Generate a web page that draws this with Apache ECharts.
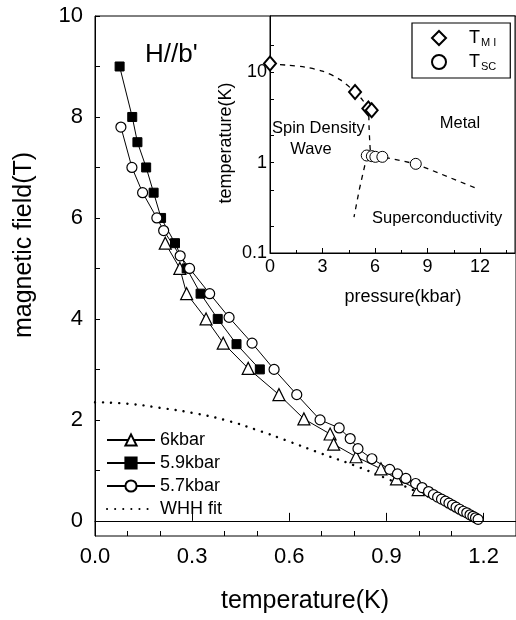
<!DOCTYPE html>
<html>
<head>
<meta charset="utf-8">
<script src="https://cdn.jsdelivr.net/npm/echarts@6/dist/echarts.min.js"></script>
<style>
  html, body { margin: 0; padding: 0; background: #fff; }
  #chart { width: 516px; height: 620px; }
</style>
</head>
<body>
<div id="chart"></div>
<script>
// main panel: upper critical field vs temperature
const tri6T = [0.217, 0.262, 0.283, 0.343, 0.396, 0.473, 0.568, 0.645, 0.726, 0.737, 0.806, 0.883, 0.931, 0.998]
const tri6H = [5.5, 5.0, 4.5, 4.0, 3.52, 3.02, 2.5, 2.02, 1.72, 1.52, 1.27, 1.03, 0.83, 0.62]

const sq59T = [0.076, 0.115, 0.131, 0.158, 0.181, 0.204, 0.247, 0.283, 0.326, 0.379, 0.437, 0.509]
const sq59H = [9.0, 8.0, 7.5, 7.0, 6.5, 6.0, 5.5, 5.0, 4.5, 4.0, 3.5, 3.0]

const ci57T = [0.080, 0.114, 0.147, 0.191, 0.212, 0.263, 0.292, 0.354, 0.414, 0.485, 0.553, 0.623,
  0.695, 0.754, 0.788, 0.812, 0.855, 0.910, 0.934, 0.960, 0.990, 1.010, 1.030, 1.045, 1.058,
  1.070, 1.082, 1.093, 1.104, 1.115, 1.126, 1.137, 1.148, 1.158, 1.167, 1.175, 1.183]
const ci57H = [7.8, 7.0, 6.5, 6.0, 5.75, 5.25, 5.0, 4.5, 4.03, 3.52, 3.0, 2.5,
  2.0, 1.84, 1.63, 1.43, 1.23, 1.02, 0.93, 0.84, 0.74, 0.66, 0.58, 0.52, 0.47,
  0.43, 0.39, 0.35, 0.31, 0.27, 0.23, 0.19, 0.16, 0.12, 0.09, 0.06, 0.03]

const whhT = [0, 0.1, 0.2, 0.3, 0.4, 0.5, 0.6, 0.7, 0.8, 0.9, 1.0, 1.1, 1.18]
const whhH = [2.35, 2.32, 2.24, 2.14, 2.0, 1.8, 1.57, 1.33, 1.1, 0.84, 0.56, 0.27, 0.0]

const tempTicks = [0, 0.3, 0.6, 0.9, 1.2]
const tempMinor = [0.1, 0.2, 0.4, 0.5, 0.7, 0.8, 1.0, 1.1, 1.3]
const fieldTicks = [0, 1, 2, 3, 4, 5, 6, 7, 8, 9, 10]
const fieldLabels = [0, 2, 4, 6, 8, 10]

// inset: phase diagram
const tmiP = [0, 4.86, 5.62, 5.81]
const tmiT = [12.5, 6.05, 3.97, 3.8]
const tscP = [5.53, 5.82, 6.02, 6.42, 8.33]
const tscT = [1.2, 1.18, 1.16, 1.16, 0.97]

const sdwLineP = [0, 1, 2, 3, 4, 4.86, 5.3, 5.62, 5.66, 5.7, 5.75]
const sdwLineT = [12.3, 12.0, 11.4, 10.3, 8.3, 6.05, 4.9, 3.9, 2.5, 1.7, 1.2]
const scLeftP = [5.55, 5.35, 5.1, 4.8]
const scLeftT = [1.2, 0.82, 0.5, 0.25]
const scRightP = [6.0, 6.42, 8.33, 11.9]
const scRightT = [1.17, 1.16, 0.97, 0.51]

const presTicks = [0, 3, 6, 9, 12]
const presMinor = [1.5, 4.5, 7.5, 10.5, 13.5]
const inTempTicks = [0.1, 0.2, 0.5, 1, 2, 5, 10, 20]
const inTempLabels = [0.1, 1, 10]

const FONT = 'Liberation Sans, Arial, sans-serif'

function zip(xs, ys) {
  return xs.map((x, i) => [x, ys[i]])
}

const myChart = echarts.init(document.getElementById('chart'))

const hollow = { color: '#fff', borderColor: '#000', borderWidth: 1.2 }
const thin = { color: '#000', width: 1 }
const dashed = { color: '#000', width: 1.3, type: [5, 5] }

myChart.setOption({
  animation: false,
  grid: [
    { left: 95, top: 16, right: 0, bottom: 84, show: true, borderColor: '#000', borderWidth: 1 },
    { left: 270, top: 16, right: 1, bottom: 367, show: true, backgroundColor: '#fff', borderColor: '#000', borderWidth: 1 }
  ],
  xAxis: [
    {
      gridIndex: 0, type: 'value', min: 0, max: 1.3,
      axisLine: { lineStyle: { color: '#000', width: 1 } },
      axisTick: { inside: true, length: 8, customValues: tempTicks, lineStyle: { color: '#000' } },
      axisLabel: { customValues: tempTicks, color: '#000', fontSize: 22, fontFamily: FONT, margin: 10,
        formatter: v => v.toFixed(1) },
      splitLine: { show: false }
    },
    {
      // minor ticks only
      gridIndex: 0, type: 'value', min: 0, max: 1.3, position: 'bottom',
      axisLine: { show: false },
      axisTick: { inside: true, length: 5, customValues: tempMinor, lineStyle: { color: '#000' } },
      axisLabel: { show: false },
      splitLine: { show: false }
    },
    {
      gridIndex: 1, type: 'value', min: 0, max: 14,
      axisLine: { lineStyle: { color: '#000', width: 1 } },
      axisTick: { inside: true, length: 5, customValues: presTicks, lineStyle: { color: '#000' } },
      axisLabel: { customValues: presTicks, color: '#000', fontSize: 18, fontFamily: FONT, margin: 5 },
      splitLine: { show: false }
    },
    {
      gridIndex: 1, type: 'value', min: 0, max: 14, position: 'bottom',
      axisLine: { show: false },
      axisTick: { inside: true, length: 3, customValues: presMinor, lineStyle: { color: '#000' } },
      axisLabel: { show: false },
      splitLine: { show: false }
    }
  ],
  yAxis: [
    {
      gridIndex: 0, type: 'value', min: -0.3, max: 10,
      axisLine: { lineStyle: { color: '#000', width: 1 } },
      axisTick: { inside: true, length: 5, customValues: fieldTicks, lineStyle: { color: '#000' } },
      axisLabel: { customValues: fieldLabels, color: '#000', fontSize: 22, fontFamily: FONT, margin: 12 },
      splitLine: { show: false }
    },
    {
      gridIndex: 1, type: 'log', min: 0.1, max: 42, logBase: 10,
      axisLine: { lineStyle: { color: '#000', width: 1 } },
      axisTick: { inside: true, length: 4, customValues: inTempTicks, lineStyle: { color: '#000' } },
      axisLabel: { customValues: inTempLabels, color: '#000', fontSize: 18, fontFamily: FONT, margin: 3,
        formatter: v => String(v) },
      splitLine: { show: false }
    }
  ],
  legend: [
    {
      orient: 'vertical', left: 106, top: 431, padding: 0,
      itemWidth: 48, itemHeight: 14, itemGap: 5,
      data: ['6kbar', '5.9kbar', '5.7kbar', 'WHH fit'],
      textStyle: { color: '#000', fontSize: 18, lineHeight: 18, fontFamily: FONT }
    },
    {
      orient: 'vertical', left: 412, top: 23, padding: [6, 14, 6, 19],
      borderColor: '#000', borderWidth: 1.2, backgroundColor: '#fff',
      itemWidth: 14, itemHeight: 14, itemGap: 5,
      data: ['T_MI', 'T_SC'],
      formatter: name => name === 'T_MI' ? '{t|T}{s|M I}' : '{t|T}{s|SC}',
      textStyle: {
        color: '#000', fontFamily: FONT,
        rich: {
          t: { fontSize: 18, lineHeight: 20, padding: [0, 0, 0, 18], fontFamily: FONT, color: '#000' },
          s: { fontSize: 11, lineHeight: 20, verticalAlign: 'bottom', padding: [6, 0, 0, 1], fontFamily: FONT, color: '#000' }
        }
      }
    }
  ],
  graphic: [
    { type: 'text', z: 100, left: 145, top: 42, style: { text: "H//b'", font: '26px ' + FONT, fill: '#000' } },
    { type: 'text', z: 100, x: 24, y: 245, rotation: Math.PI / 2,
      style: { text: 'magnetic field(T)', font: '25px ' + FONT, fill: '#000', align: 'center', verticalAlign: 'middle' } },
    { type: 'text', z: 100, x: 305, y: 601,
      style: { text: 'temperature(K)', font: '25px ' + FONT, fill: '#000', align: 'center', verticalAlign: 'middle' } },
    { type: 'text', z: 100, x: 226, y: 143, rotation: Math.PI / 2,
      style: { text: 'temperature(K)', font: '18px ' + FONT, fill: '#000', align: 'center', verticalAlign: 'middle' } },
    { type: 'text', z: 100, x: 403, y: 297,
      style: { text: 'pressure(kbar)', font: '18px ' + FONT, fill: '#000', align: 'center', verticalAlign: 'middle' } },
    { type: 'text', z: 100, x: 272, y: 128,
      style: { text: 'Spin Density', font: '16.5px ' + FONT, fill: '#000', align: 'left', verticalAlign: 'middle' } },
    { type: 'text', z: 100, x: 311, y: 149,
      style: { text: 'Wave', font: '16.5px ' + FONT, fill: '#000', align: 'center', verticalAlign: 'middle' } },
    { type: 'text', z: 100, x: 460, y: 123,
      style: { text: 'Metal', font: '16.5px ' + FONT, fill: '#000', align: 'center', verticalAlign: 'middle' } },
    { type: 'text', z: 100, x: 372, y: 218,
      style: { text: 'Superconductivity', font: '16.5px ' + FONT, fill: '#000', align: 'left', verticalAlign: 'middle' } }
  ],
  series: [
    {
      name: 'WHH fit', type: 'line', xAxisIndex: 0, yAxisIndex: 0,
      data: zip(whhT, whhH), symbol: 'none', smooth: true,
      itemStyle: { color: 'rgba(0,0,0,0)', borderWidth: 0 },
      lineStyle: { color: '#000', width: 2.4, type: [0.1, 8], cap: 'round' },
      markLine: {
        silent: true, symbol: 'none', label: { show: false },
        lineStyle: { color: '#000', width: 1, type: 'solid' },
        data: [{ yAxis: 0 }]
      }
    },
    {
      name: '6kbar', type: 'line', xAxisIndex: 0, yAxisIndex: 0,
      data: zip(tri6T, tri6H), symbol: 'triangle', symbolSize: 12,
      lineStyle: thin, itemStyle: hollow
    },
    {
      name: '5.9kbar', type: 'line', xAxisIndex: 0, yAxisIndex: 0,
      data: zip(sq59T, sq59H), symbol: 'rect', symbolSize: 9,
      lineStyle: thin, itemStyle: { color: '#000', borderColor: '#000', borderWidth: 1 }
    },
    {
      name: '5.7kbar', type: 'line', xAxisIndex: 0, yAxisIndex: 0,
      data: zip(ci57T, ci57H), symbol: 'circle', symbolSize: 10,
      lineStyle: thin, itemStyle: hollow
    },
    {
      name: 'sdw', type: 'line', xAxisIndex: 2, yAxisIndex: 1,
      data: zip(sdwLineP, sdwLineT), symbol: 'none', smooth: 0.3, lineStyle: dashed, z: 3
    },
    {
      name: 'scLeft', type: 'line', xAxisIndex: 2, yAxisIndex: 1,
      data: zip(scLeftP, scLeftT), symbol: 'none', lineStyle: dashed, z: 3
    },
    {
      name: 'scRight', type: 'line', xAxisIndex: 2, yAxisIndex: 1,
      data: zip(scRightP, scRightT), symbol: 'none', lineStyle: dashed, z: 3
    },
    {
      name: 'T_MI', type: 'scatter', xAxisIndex: 2, yAxisIndex: 1,
      data: zip(tmiP, tmiT), symbol: 'diamond', symbolSize: [12, 14],
      itemStyle: { color: '#fff', borderColor: '#000', borderWidth: 2, opacity: 1 }, z: 4
    },
    {
      name: 'T_SC', type: 'scatter', xAxisIndex: 2, yAxisIndex: 1,
      data: zip(tscP, tscT), symbol: 'circle', symbolSize: 11,
      itemStyle: { color: '#fff', borderColor: '#000', borderWidth: 1, opacity: 1 }, z: 4
    }
  ]
})
</script>
</body>
</html>
